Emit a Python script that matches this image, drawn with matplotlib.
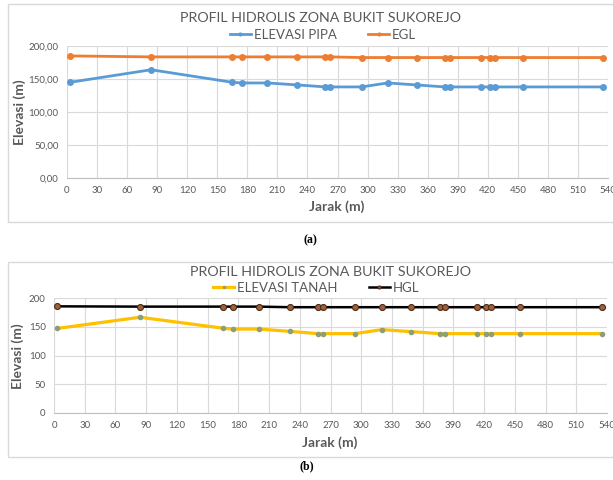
import matplotlib
matplotlib.use("Agg")
import matplotlib.pyplot as plt
from matplotlib.patches import Rectangle
from matplotlib.ticker import FuncFormatter

plt.rcParams['font.family'] = ['Lato', 'DejaVu Sans']

# ---- data ----
jarak = [3, 84, 165, 175, 200, 230, 258, 263, 294, 320, 349, 377, 382, 413, 422, 427, 455, 535]
elevasi_pipa = [145, 164, 145, 144, 144, 141, 138, 138, 138, 144, 141, 138, 138, 138, 138, 138, 138, 138]
egl = [185, 183.5, 183.5, 183.5, 183.5, 183.5, 183.5, 183.5, 182.5, 182.5, 182.5, 182.5, 182.5, 182.5, 182.5, 182.5, 182.5, 182.5]
elevasi_tanah = [147, 166.5, 147.5, 146, 146, 142, 138, 138, 138, 145, 141.5, 138, 138, 138, 138, 138, 138, 138]
hgl = [185.5, 185, 185, 185, 185, 184, 184, 184, 184, 184, 184, 184, 184, 184, 184, 184, 184, 184]
xticks = list(range(0, 541, 30))
yticks = [0, 50, 100, 150, 200]
title = "PROFIL HIDROLIS ZONA BUKIT SUKOREJO"

W, H = 613, 480
fig = plt.figure(figsize=(W / 100, H / 100), dpi=100)

def fx(px):
    return px / W

def fy(py):
    return 1 - py / H

GRID = '#d9d9d9'
TXT = '#595959'

def frame(x0, y0, x1, y1):
    fig.patches.append(Rectangle((fx(x0), fy(y1)), fx(x1 - x0), (y1 - y0) / H,
                                 transform=fig.transFigure, fill=False,
                                 edgecolor='#d9d9d9', linewidth=1.0))

def style_axes(ax, fmt):
    ax.set_xlim(0, 540)
    ax.set_ylim(0, 200)
    ax.set_xticks(xticks)
    ax.set_yticks(yticks)
    ax.yaxis.set_major_formatter(FuncFormatter(fmt))
    ax.grid(True, color=GRID, linewidth=0.8)
    ax.set_axisbelow(True)
    for s in ['top', 'right', 'left']:
        ax.spines[s].set_visible(False)
    ax.spines['bottom'].set_color('#bfbfbf')
    ax.tick_params(length=0, labelsize=7, colors=TXT, pad=6)

# ---------- chart (a) ----------
frame(8, 4, 614, 222)
ax1 = fig.add_axes([fx(67), fy(178), fx(608 - 67), (178 - 46) / H])
style_axes(ax1, lambda v, p: f"{v:.2f}".replace('.', ','))
l1, = ax1.plot(jarak, elevasi_pipa, color='#5b9bd5', lw=2, marker='o', ms=4, clip_on=False)
l2, = ax1.plot(jarak, egl, color='#ed7d31', lw=2, marker='o', ms=4, clip_on=False)
fig.text(fx(321), fy(18), title, ha='center', va='center', fontsize=10.3, color=TXT)
fig.legend([l1, l2], ['ELEVASI PIPA', 'EGL'], loc='center', bbox_to_anchor=(fx(323), fy(35)),
           ncol=2, frameon=False, fontsize=9.5, handlelength=1.6, handletextpad=0.2,
           columnspacing=2.4, labelcolor=TXT, markerscale=0.5)
fig.text(fx(20), fy(112), 'Elevasi (m)', rotation=90, ha='center', va='center',
         fontsize=10, fontweight='bold', color=TXT)
fig.text(fx(337), fy(207), 'Jarak (m)', ha='center', va='center',
         fontsize=10, fontweight='bold', color=TXT)
fig.text(fx(310), fy(240), '(a)', ha='center', va='center', fontsize=8.5,
         fontweight='bold', family='Liberation Serif', color='black')

# ---------- chart (b) ----------
frame(8, 262, 614, 457)
ax2 = fig.add_axes([fx(54), fy(413), fx(607 - 54), (413 - 298) / H])
style_axes(ax2, lambda v, p: f"{v:.0f}")
l3, = ax2.plot(jarak, elevasi_tanah, color='#ffc000', lw=2.3, marker='o', ms=3,
               mfc='#8c9f76', mec='#8c9f76', clip_on=False)
l4, = ax2.plot(jarak, hgl, color='black', lw=1.8, marker='o', ms=4.3,
               mfc='#a0603a', mec='#4a2a18', mew=0.8, clip_on=False)
fig.text(fx(330), fy(272), title, ha='center', va='center', fontsize=10.3, color=TXT)
fig.legend([l3, l4], ['ELEVASI TANAH', 'HGL'], loc='center', bbox_to_anchor=(fx(316), fy(288)),
           ncol=2, frameon=False, fontsize=9.5, handlelength=1.6, handletextpad=0.2,
           columnspacing=2.4, labelcolor=TXT, markerscale=0.5)
fig.text(fx(18), fy(356), 'Elevasi (m)', rotation=90, ha='center', va='center',
         fontsize=10, fontweight='bold', color=TXT)
fig.text(fx(330), fy(443), 'Jarak (m)', ha='center', va='center',
         fontsize=10, fontweight='bold', color=TXT)
fig.text(fx(307), fy(466), '(b)', ha='center', va='center', fontsize=8.5,
         fontweight='bold', family='Liberation Serif', color='black')

fig.savefig('out.png', dpi=100)
